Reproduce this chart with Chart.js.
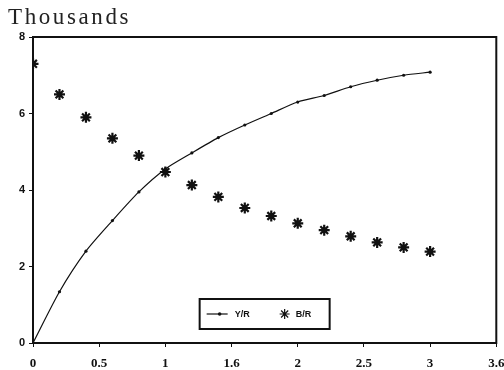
<!DOCTYPE html>
<html>
<head>
<meta charset="utf-8">
<script src="https://cdn.jsdelivr.net/npm/chart.js@4"></script>
<style>
  html, body { margin: 0; padding: 0; background: #fff; }
  #wrap { position: relative; width: 504px; height: 370px; }
  #unit { position: absolute; left: 8px; top: 4px; font: 23px "Liberation Serif", serif; letter-spacing: 2.6px; color: #222; }
</style>
</head>
<body>
<div id="wrap">
  <canvas id="chart" width="504" height="370"></canvas>
  <div id="unit">Thousands</div>
</div>
<script>
// ── data ──
const xValues  = [0, 0.2, 0.4, 0.6, 0.8, 1.0, 1.2, 1.4, 1.6, 1.8, 2.0, 2.2, 2.4, 2.6, 2.8, 3.0];
const yrValues = [0, 1.34, 2.4, 3.2, 3.95, 4.55, 4.97, 5.37, 5.7, 6.0, 6.3, 6.47, 6.7, 6.87, 7.0, 7.08];
const brValues = [7.3, 6.5, 5.9, 5.35, 4.9, 4.47, 4.13, 3.82, 3.53, 3.32, 3.13, 2.95, 2.79, 2.63, 2.5, 2.39];
const seriesLabels = ['Y/R', 'B/R'];

const xTickValues = [0, 0.5, 1, 1.5, 2, 2.5, 3, 3.5];
const xTickLabels = ['0', '0.5', '1', '1.6', '2', '2.5', '3', '3.6'];
const yTickLabels = ['0', '2', '4', '6', '8'];

const INK = '#111';

// scales should not reserve room for half-labels at the ends
function noEndPadding(s) {
  s.paddingLeft = 0; s.paddingRight = 0;
  s.paddingTop = 0; s.paddingBottom = 0;
}

// ── frame round the plot area ──
const frame = {
  id: 'frame',
  afterDatasetsDraw(chart) {
    const { ctx, chartArea: a } = chart;
    ctx.save();
    ctx.strokeStyle = INK;
    ctx.lineWidth = 2;
    ctx.strokeRect(a.left, a.top, a.right - a.left, a.bottom - a.top);
    ctx.restore();
  }
};

// ── boxed legend inside the plot, bottom centre ──
const boxLegend = {
  id: 'boxLegend',
  afterDraw(chart) {
    const { ctx, chartArea: a } = chart;
    const w = 130, h = 30;
    const x = (a.left + a.right) / 2 - w / 2;
    const y = a.bottom - 14 - h;
    const cy = y + h / 2;
    ctx.save();
    ctx.fillStyle = '#fff';
    ctx.fillRect(x, y, w, h);
    ctx.strokeStyle = INK;
    ctx.lineWidth = 2;
    ctx.strokeRect(x, y, w, h);

    // Y/R sample
    ctx.lineWidth = 1.2;
    ctx.beginPath();
    ctx.moveTo(x + 7, cy);
    ctx.lineTo(x + 28, cy);
    ctx.stroke();
    ctx.fillStyle = INK;
    ctx.beginPath();
    ctx.arc(x + 20, cy, 1.8, 0, Math.PI * 2);
    ctx.fill();

    ctx.font = 'bold 9px "Liberation Sans", sans-serif';
    ctx.textBaseline = 'middle';
    ctx.fillText(seriesLabels[0], x + 35, cy + 1);

    // B/R sample
    Chart.helpers.drawPoint(ctx, { pointStyle: 'star', radius: 5, borderWidth: 2 }, x + 85, cy);
    ctx.fillText(seriesLabels[1], x + 96, cy + 1);
    ctx.restore();
  }
};

new Chart(document.getElementById('chart'), {
  type: 'line',
  data: {
    datasets: [
      {
        label: seriesLabels[0],
        data: xValues.map((x, i) => ({ x, y: yrValues[i] })),
        borderColor: INK,
        borderWidth: 1.2,
        pointRadius: 1.6,
        pointBackgroundColor: INK,
        pointBorderWidth: 0,
        tension: 0.25
      },
      {
        label: seriesLabels[1],
        data: xValues.map((x, i) => ({ x, y: brValues[i] })),
        showLine: false,
        pointStyle: 'star',
        pointRadius: 5.5,
        pointBorderWidth: 2.2,
        pointBorderColor: INK
      }
    ]
  },
  options: {
    responsive: false,
    animation: false,
    layout: { padding: { top: 37, right: 7, left: 0, bottom: 0 } },
    plugins: {
      legend: { display: false },
      tooltip: { enabled: false }
    },
    scales: {
      x: {
        type: 'linear',
        min: 0,
        max: 3.5,
        afterBuildTicks: s => { s.ticks = xTickValues.map(v => ({ value: v })); },
        afterFit: s => { s.height = 27; noEndPadding(s); },
        border: { display: false },
        grid: { drawOnChartArea: false, tickLength: 4, color: INK, lineWidth: 1 },
        ticks: {
          padding: 9,
          color: INK,
          font: { family: '"Liberation Serif", serif', size: 13, weight: 'bold' },
          callback: v => xTickLabels[xTickValues.indexOf(v)],
          maxRotation: 0,
          autoSkip: false
        }
      },
      y: {
        min: 0,
        max: 8,
        afterBuildTicks: s => { s.ticks = yTickLabels.map(t => ({ value: +t })); },
        afterFit: s => { s.width = 33; noEndPadding(s); },
        border: { display: false },
        grid: { drawOnChartArea: false, tickLength: 4, color: INK, lineWidth: 1 },
        ticks: {
          padding: 4,
          color: INK,
          font: { family: '"Liberation Sans", sans-serif', size: 11, weight: 'bold' },
          callback: v => yTickLabels[yTickLabels.indexOf(String(v))]
        }
      }
    }
  },
  plugins: [frame, boxLegend]
});
</script>
</body>
</html>
